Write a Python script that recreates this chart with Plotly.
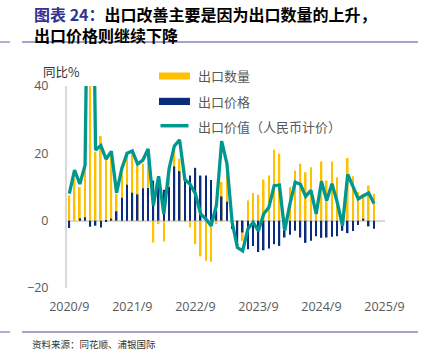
import plotly.graph_objects as go

# ---- data ----
months = [f"{2020 + (8 + i) // 12}/{(8 + i) % 12 + 1}" for i in range(59)]  # 2020/9 ... 2025/7

qty_yoy = [7.5, 12.5, 10.0, 16.0, 120.0, 20.5, 25.2, 18.0, 19.5, 8.0,
           14.0, 19.4, 20.0, 16.2, 16.9, 19.8, -6.5, -1.0, -6.2, 12.5,
           20.8, 18.4, -0.5, -2.0, -7.0, -10.6, -11.9, -12.2, -1.0, 11.5,
           14.0, 1.5, -1.5, -6.0, 6.0, 8.2, 7.7, 12.2, 13.4, 21.1,
           19.9, 1.0, 10.0, 14.9, 16.9, 14.4, 15.9, 4.5, 17.6, 11.9,
           17.6, 12.9, 1.0, 18.6, 13.2, 8.5, 8.0, 10.4, 8.0]

price_yoy = [-2.2, 0.0, 0.7, 1.0, -1.8, -1.5, -2.0, -0.3, 0.6, 2.8,
             6.8, 10.7, 8.3, 7.8, 9.6, 9.7, 11.9, 13.0, 9.2, 10.0,
             16.1, 14.7, 12.9, 13.4, 15.7, 13.4, 13.4, 12.1, 3.0, 7.2,
             5.6, -2.5, -7.5, -3.5, -8.5, -7.5, -9.3, -8.8, -8.3, -7.0,
             -7.5, -5.0, -4.2, -3.0, -5.0, -6.6, -6.0, -4.6, -5.1, -5.0,
             -4.8, -4.6, -3.0, -3.7, -3.1, -1.3, 0.6, -1.7, -2.4]

value_yoy = [8.0, 15.0, 10.9, 16.5, 139.0, 21.0, 22.3, 18.3, 20.6, 8.3,
             15.5, 20.0, 20.7, 16.8, 18.0, 21.3, 4.5, 13.2, 2.0, 15.5,
             22.2, 24.0, 12.2, 10.8, 8.0, 2.0, 0.5, -1.5, 4.5, 23.6,
             17.0, -0.5, -8.0, -9.0, -2.5, -0.5, -3.0, 2.0, 4.0, 10.4,
             10.6, -3.0, 5.0, 11.4, 10.8, 7.2, 9.0, 2.0, 11.7, 6.0,
             11.0, 5.5, -1.5, 13.7, 10.2, 6.5, 7.4, 8.2, 5.1]

tick_labels = ["2020/9", "2021/9", "2022/9", "2023/9", "2024/9", "2025/9"]
y_ticks = [-20, 0, 20, 40]

series_names = ["出口数量", "出口价格", "出口价值（人民币计价）"]
YELLOW, NAVY, TEAL = "#FFC000", "#0B2C7C", "#00978F"

# ---- geometry helpers ----
W, H = 426, 350
L, R, T, B = 67, 385, 86, 288


def px(x):
    return (x - L) / (R - L)


def py(y):
    return (B - y) / (B - T)


x_idx = list(range(len(months)))


def month_index(lbl):
    y, m = lbl.split("/")
    return (int(y) - 2020) * 12 + int(m) - 9


tick_vals = [month_index(t) for t in tick_labels]

fig = go.Figure()
fig.add_trace(go.Bar(x=x_idx, y=qty_yoy, name=series_names[0], marker_color=YELLOW,
                     marker_line_width=0, width=0.32, customdata=months))
fig.add_trace(go.Bar(x=x_idx, y=price_yoy, name=series_names[1], marker_color=NAVY,
                     marker_line_width=0, width=0.3, customdata=months))
fig.add_trace(go.Scatter(x=x_idx, y=value_yoy, name=series_names[2], mode="lines",
                         line=dict(color=TEAL, width=3.3), customdata=months))

fig.update_layout(
    width=W, height=H,
    margin=dict(l=L, r=W - R, t=T, b=H - B),
    paper_bgcolor="white", plot_bgcolor="white",
    barmode="overlay", showlegend=False,
    font=dict(family="Open Sans, Noto Sans CJK SC", size=12.5, color="#595959"),
)
fig.update_xaxes(range=[-0.44, 60.1], tickvals=tick_vals, ticktext=tick_labels,
                 showgrid=False, zeroline=False, showline=False, ticks="",
                 ticklabelstandoff=9, tickfont=dict(family="Open Sans", size=12.5, color="#595959"))
fig.update_yaxes(range=[-20, 40], tickvals=y_ticks, showgrid=False,
                 zeroline=True, zerolinecolor="#D9D9D9", zerolinewidth=2,
                 showline=True, linecolor="#D9D9D9", linewidth=2, ticks="",
                 ticklabelstandoff=14, tickfont=dict(family="Open Sans", size=12.5, color="#595959"))

ann = []
cjk = "Noto Sans CJK SC"
ann.append(dict(text="<b><span style='color:#33338F'>图表 24：</span>出口改善主要是因为出口数量的上升，"
                     "<br>出口价格则继续下降</b>",
                x=px(32), y=py(25), xref="paper", yref="paper", xanchor="left", yanchor="middle",
                align="left", showarrow=False, font=dict(family=cjk, size=16, color="#000000")))
ann.append(dict(text="同比%", x=px(41), y=py(72), xref="paper", yref="paper",
                xanchor="left", yanchor="middle", showarrow=False,
                font=dict(family=cjk, size=12.5, color="#333333")))
ann.append(dict(text="资料来源：同花顺、浦银国际", x=px(30), y=py(344), xref="paper", yref="paper",
                xanchor="left", yanchor="middle", showarrow=False,
                font=dict(family=cjk, size=9.5, color="#333333")))
for name, yc in zip(series_names, [76, 101.3, 126]):
    ann.append(dict(text=name, x=px(196), y=py(yc), xref="paper", yref="paper",
                    xanchor="left", yanchor="middle", showarrow=False,
                    font=dict(family=cjk, size=13, color="#595959")))
fig.update_layout(annotations=ann)

rule = "#8585BA"
shapes = [
    dict(type="line", xref="paper", yref="paper", x0=px(22), x1=px(418), y0=py(42), y1=py(42),
         line=dict(color=rule, width=1.3)),
    dict(type="line", xref="paper", yref="paper", x0=px(0), x1=px(10), y0=py(42), y1=py(42),
         line=dict(color=rule, width=1.3)),
    dict(type="line", xref="paper", yref="paper", x0=px(22), x1=px(418), y0=py(332), y1=py(332),
         line=dict(color=rule, width=1.3)),
    dict(type="line", xref="paper", yref="paper", x0=px(0), x1=px(10), y0=py(332), y1=py(332),
         line=dict(color=rule, width=1.3)),
    # legend swatches
    dict(type="rect", xref="paper", yref="paper", x0=px(159), x1=px(190), y0=py(79.5), y1=py(72.5),
         fillcolor=YELLOW, line=dict(width=0)),
    dict(type="rect", xref="paper", yref="paper", x0=px(159), x1=px(190), y0=py(105), y1=py(97.8),
         fillcolor=NAVY, line=dict(width=0)),
    dict(type="line", xref="paper", yref="paper", x0=px(160.5), x1=px(188.5), y0=py(125.7), y1=py(125.7),
         line=dict(color=TEAL, width=3.5)),
]
fig.update_layout(shapes=shapes)

fig.write_html("out.html")
